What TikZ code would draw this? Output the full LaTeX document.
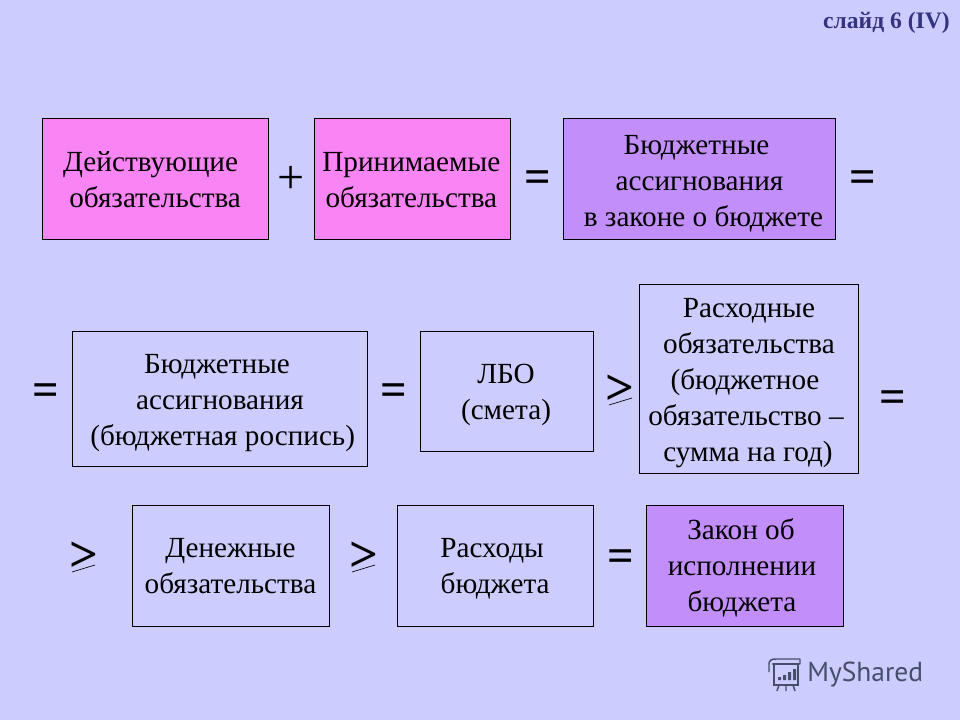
\documentclass[tikz,border=0pt]{standalone}
\usepackage{fontspec}
\setmainfont{Liberation Serif}
\newfontfamily\logofont{PT Sans}
\newcommand{\bodytext}{\fontsize{21.9pt}{27pt}\selectfont}
\newcommand{\sh}[1]{\hspace*{#1pt}}
\definecolor{slidebg}{HTML}{CCCCFF}
\definecolor{pinkbox}{HTML}{F984F4}
\definecolor{violetbox}{HTML}{C28EFA}
\definecolor{titleblue}{HTML}{33337F}
\definecolor{logogray}{HTML}{454E6A}
\tikzset{x=0.75pt,y=-0.75pt,
  box/.style={draw=black,line width=0.75pt,inner sep=0pt,anchor=north west},
  pinkb/.style={box,fill=pinkbox},
  violetb/.style={box,fill=violetbox},
  plainb/.style={box},
  lbl/.style={inner sep=0pt,align=center,font=\bodytext},
  oper/.style={font=\fontsize{35pt}{35pt}\selectfont\bfseries,inner sep=0pt},
  gtop/.style={font=\fontsize{38pt}{38pt}\selectfont\bfseries,inner sep=0pt},
  geunder/.style={line width=0.5pt},
  logoline/.style={draw=logogray,line width=1.1pt}}
\begin{document}
\begin{tikzpicture}
\useasboundingbox[fill=slidebg] (0,0) rectangle (960,720);
\node[anchor=north east,inner sep=0pt,text=titleblue,font=\fontsize{17.7pt}{20pt}\selectfont\bfseries] (title) at (950,11.5) {слайд 6 (IV)};

\node[pinkb,minimum width=169.5pt,minimum height=90.75pt] (a1) at (42,118.5) {};
\node[lbl] (a1t) at ([xshift=-0.3pt,yshift=-0.4pt]a1.center) {\sh{-6.7}Действующие\\обязательства};
\node[pinkb,minimum width=147pt,minimum height=90.75pt] (a2) at (314,118.5) {};
\node[lbl] (a2t) at ([xshift=-0.9pt,yshift=-0.4pt]a2.center) {Принимаемые\\обязательства};
\node[violetb,minimum width=204pt,minimum height=90.75pt] (a3) at (563,118.5) {};
\node[lbl] (a3t) at ([yshift=-3.4pt]a3.center) {\sh{-4.5}Бюджетные\\ассигнования\\\sh{6}в законе о бюджете};

\node[plainb,minimum width=221.25pt,minimum height=101.25pt] (b1) at (72,330.5) {};
\node[lbl] (b1t) at ([yshift=-3.5pt]b1.center) {\sh{-4.5}Бюджетные\\ассигнования\\\sh{4}(бюджетная роспись)};
\node[plainb,minimum width=129.75pt,minimum height=90pt] (b2) at (420,330.5) {};
\node[lbl] (b2t) at ([yshift=-3pt,xshift=-0.75pt]b2.center) {ЛБО\\(смета)};
\node[plainb,minimum width=164.25pt,minimum height=141pt] (b3) at (639,284.5) {};
\node[lbl] (b3t) at ([yshift=-3.4pt]b3.center) {Расходные\\обязательства\\\sh{-6}(бюджетное\\\sh{-4.5}обязательство –\\\sh{-1.5}сумма на год)};

\node[plainb,minimum width=147.75pt,minimum height=90.75pt] (c1) at (132,504.5) {};
\node[lbl] (c1t) at ([yshift=-0.4pt,xshift=-0.4pt]c1.center) {Денежные\\обязательства};
\node[plainb,minimum width=147pt,minimum height=90.75pt] (c2) at (397,504.5) {};
\node[lbl] (c2t) at ([yshift=-2.6pt,xshift=-0.3pt]c2.center) {\sh{-4.5}Расходы\\бюджета};
\node[violetb,minimum width=147.75pt,minimum height=90.75pt] (c3) at (646,504.5) {};
\node[lbl] (c3t) at ([yshift=-2pt,xshift=-2.25pt]c3.center) {\sh{-1.5}Закон об\\исполнении\\бюджета};

\node[oper,font=\fontsize{36pt}{36pt}\selectfont] (p1) at (291,180) {+};
\node[oper] (e1) at (537.5,182) {=};
\node[oper] (e2) at (862.5,182) {=};
\node[oper] (e3) at (46,395) {=};
\node[oper] (e4) at (394,395) {=};
\node[oper] (e5) at (893,402) {=};
\node[oper] (e6) at (621,561) {=};

\node[gtop] (g1) at (620,390) {>};
\coordinate (g1a) at (609,405); \coordinate (g1b) at (632,398);
\draw[geunder] (g1a) -- (g1b);
\node[gtop] (g2) at (84,557) {>};
\coordinate (g2a) at (72,572); \coordinate (g2b) at (95,565);
\draw[geunder] (g2a) -- (g2b);
\node[gtop] (g3) at (364,557) {>};
\coordinate (g3a) at (352,572); \coordinate (g3b) at (375,565);
\draw[geunder] (g3a) -- (g3b);

% logo
\node[anchor=west,inner sep=0pt,text=logogray,font=\logofont\fontsize{20.6pt}{24pt}\selectfont] (logo) at (807,675) {MyShared};
\draw[logoline,line join=round] (769,672) -- (769,664) .. controls (769,660) and (772,659) .. (776,659) -- (800,659) -- (800,664) -- (772,664);
\draw[logoline] (774,664) rectangle (798,685);
\fill[logogray] (778,677) rectangle (781,680) (783,675) rectangle (786,680) (788,672) rectangle (791,680) (793,669) rectangle (796,680);
\draw[logoline] (779,685) -- (777,691) (786,685) -- (786,691) (793,685) -- (795,691);
\end{tikzpicture}
\end{document}
